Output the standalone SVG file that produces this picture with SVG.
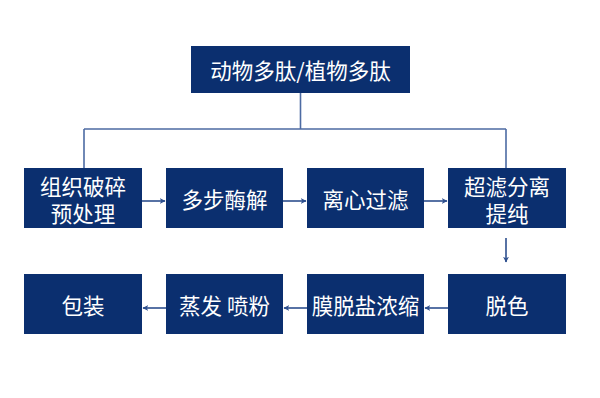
<svg xmlns="http://www.w3.org/2000/svg" width="600" height="398" viewBox="0 0 600 398">
<defs>
<style>
.box{fill:#0b2f6f}
.t{fill:#ffffff;font-family:"Noto Sans CJK SC","Noto Sans",sans-serif;font-size:21.5px;text-anchor:middle;dominant-baseline:central}
.ln{stroke:#4d6ba3;stroke-width:1.6;fill:none}
.ar{stroke:#2d4f8e;stroke-width:1.6;fill:none;marker-end:url(#ah)}
</style>
<marker id="ah" viewBox="0 0 10 10" refX="9" refY="5" markerWidth="6" markerHeight="6" orient="auto" markerUnits="userSpaceOnUse">
<path d="M0,0 L10,5 L0,10 L3,5 z" fill="#2d4f8e"/>
</marker>
</defs>
<rect width="600" height="398" fill="#ffffff"/>
<g id="connectors">
<path class="ln" d="M300.5,93 V129 M84,129 H506 M84,129 V168 M506,129 V168"/>
<path class="ar" d="M142,201 H165"/>
<path class="ar" d="M283,201 H306"/>
<path class="ar" d="M424,201 H447"/>
<path class="ar" d="M506,238 V262"/>
<path class="ar" d="M448,308 H425"/>
<path class="ar" d="M307,308 H284"/>
<path class="ar" d="M166,308 H143"/>
</g>
<g id="n0"><rect class="box" x="191" y="46" width="219" height="47"/><text class="t" x="300.5" y="69.5">动物多肽/植物多肽</text></g>
<g id="n1"><rect class="box" x="24" y="168" width="118" height="60"/><text class="t"><tspan x="83" y="185">组织破碎</tspan><tspan x="83" y="212">预处理</tspan></text></g>
<g id="n2"><rect class="box" x="166" y="168" width="117" height="60"/><text class="t" x="224.5" y="198">多步酶解</text></g>
<g id="n3"><rect class="box" x="307" y="168" width="117" height="60"/><text class="t" x="365.5" y="198">离心过滤</text></g>
<g id="n4"><rect class="box" x="448" y="168" width="118" height="60"/><text class="t"><tspan x="507" y="185">超滤分离</tspan><tspan x="507" y="212">提纯</tspan></text></g>
<g id="n5"><rect class="box" x="448" y="274" width="118" height="60"/><text class="t" x="507" y="304">脱色</text></g>
<g id="n6"><rect class="box" x="307" y="274" width="117" height="60"/><text class="t" x="365.5" y="304">膜脱盐浓缩</text></g>
<g id="n7"><rect class="box" x="166" y="274" width="117" height="60"/><text class="t" x="224.5" y="304">蒸发 喷粉</text></g>
<g id="n8"><rect class="box" x="24" y="274" width="118" height="60"/><text class="t" x="83" y="304">包装</text></g>
</svg>
